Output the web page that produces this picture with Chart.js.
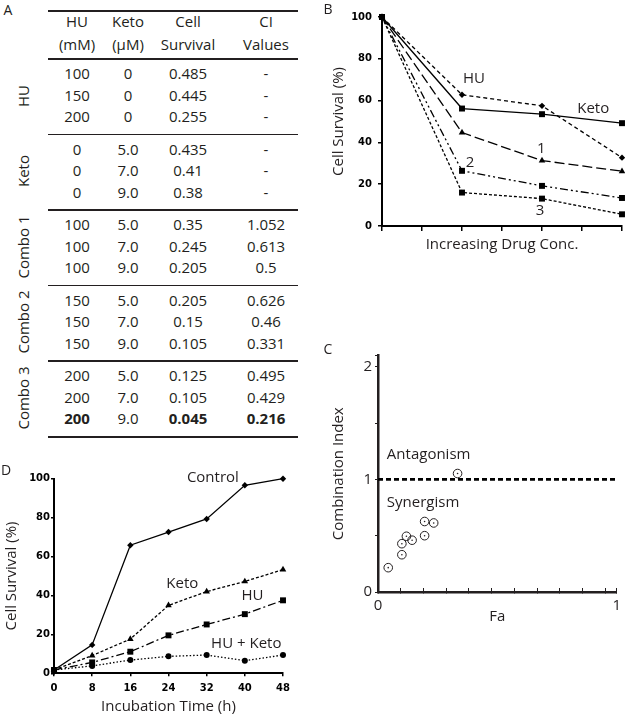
<!DOCTYPE html>
<html>
<head>
<meta charset="utf-8">
<script src="https://cdn.jsdelivr.net/npm/chart.js@4"></script>
<style>
  html, body { margin: 0; padding: 0; background: #fff; }
  body { width: 625px; height: 720px; position: relative; overflow: hidden;
         font-family: "Open Sans", sans-serif; color: #231f20; }
  canvas { position: absolute; }
  .t { position: absolute; transform: translate(-50%, -50%); white-space: nowrap;
       font-size: 15px; line-height: 18px; }
  .rot { transform: translate(-50%, -50%) rotate(-90deg); }
  .b { font-weight: bold; }
  .rule { position: absolute; left: 48px; width: 250px; height: 1.5px; background: #231f20; }
  .panel { position: absolute; font-size: 14px; transform: translate(-50%, -50%); }
</style>
</head>
<body>
<div id="table"></div>
<canvas id="chartB" width="330" height="262" style="left:300px;top:0px"></canvas>
<canvas id="chartC" width="330" height="300" style="left:300px;top:330px"></canvas>
<canvas id="chartD" width="300" height="280" style="left:0px;top:440px"></canvas>
<script>
// ---- Panel A: table values ----
const groupNames = ["HU", "Keto", "Combo 1", "Combo 2", "Combo 3"];
const headTop    = ["HU", "Keto", "Cell", "CI"];
const headBottom = ["(mM)", "(\u00b5M)", "Survival", "Values"];
const huConc   = ["100", "150", "200", "0", "0", "0", "100", "100", "100", "150", "150", "150", "200", "200", "200"];
const ketoConc = ["0", "0", "0", "5.0", "7.0", "9.0", "5.0", "7.0", "9.0", "5.0", "7.0", "9.0", "5.0", "7.0", "9.0"];
const survival = ["0.485", "0.445", "0.255", "0.435", "0.41", "0.38", "0.35", "0.245", "0.205",
                  "0.205", "0.15", "0.105", "0.125", "0.105", "0.045"];
const ciValues = ["-", "-", "-", "-", "-", "-", "1.052", "0.613", "0.5",
                  "0.626", "0.46", "0.331", "0.495", "0.429", "0.216"];

// ---- Panel B: survival vs increasing drug conc. ----
const bDose    = [0, 2, 4, 6];
const bHU      = [100, 62.8, 57.5, 32.7];
const bKeto    = [100, 56.2, 53.5, 49.2];
const bCombo1  = [100, 44.7, 31.3, 26.2];
const bCombo2  = [100, 26.4, 19.2, 13.4];
const bCombo3  = [100, 16.0, 13.1, 5.6];
const bNoteText = ["HU", "Keto", "1", "2", "3"];
const bNoteX    = [2.3, 5.28, 3.98, 2.2, 3.95];
const bNoteY    = [70.4, 56, 36.9, 30.4, 7.2];

// ---- Panel C: combination index vs Fa ----
const faValues = [0.35, 0.245, 0.205, 0.205, 0.15, 0.105, 0.125, 0.105, 0.045];
const ciPlot   = [1.052, 0.613, 0.5, 0.626, 0.46, 0.331, 0.495, 0.429, 0.216];
const faTicks  = [0, 0.1, 0.2, 0.3, 0.4, 0.5, 0.6, 0.7, 0.8, 0.9, 1.0, 1.05];
const faLabels = ["0", "", "", "", "", "", "", "", "", "", "", "1"];
const ciTicks  = [0, 0.5, 1, 1.5, 2, 2.1];
const ciLabels = ["0", "", "1", "", "2", ""];
const cNoteText = ["Antagonism", "Synergism"];
const cNoteX    = [0.039, 0.039];
const cNoteY    = [1.22, 0.79];

// ---- Panel D: survival over incubation time ----
const dHours   = [0, 8, 16, 24, 32, 40, 48];
const dControl = [1.7, 14.6, 65.8, 72.6, 79.3, 96.6, 100];
const dKeto    = [1.7, 9.1, 17.6, 34.9, 42.0, 47.2, 53.3];
const dHU      = [1.7, 5.6, 11.1, 19.5, 25.1, 30.4, 37.5];
const dHUKeto  = [1.7, 3.8, 6.8, 8.7, 9.4, 6.5, 9.4];
const dNoteText = ["Control", "Keto", "HU", "HU + Keto"];
const dNoteX    = [33.3, 26.9, 41.6, 40.3];
const dNoteY    = [100.3, 46.1, 39.7, 15.4];

const INK = "#231f20";

// ---------- build the table (panel A) ----------
function addText(parent, text, cx, cy, cls) {
  const s = document.createElement("span");
  s.className = "t" + (cls ? " " + cls : "");
  s.textContent = text;
  s.style.left = cx + "px";
  s.style.top = cy + "px";
  parent.appendChild(s);
}
function addRule(parent, y, h) {
  const d = document.createElement("div");
  d.className = "rule";
  d.style.top = y + "px";
  if (h) d.style.height = h + "px";
  parent.appendChild(d);
}
(function buildTable() {
  const tbl = document.getElementById("table");
  const colX = [77, 128, 188, 266];
  const ruleY = [58, 133.5, 209, 284.5, 360, 435.5];
  const pitch = 21.7;

  addRule(tbl, 9.5, 2);
  headTop.forEach((h, i) => addText(tbl, h, colX[i], 21));
  headBottom.forEach((h, i) => addText(tbl, h, colX[i], 43.5));
  ruleY.forEach((y, i) => addRule(tbl, y, i === ruleY.length - 1 ? 2 : 1.5));

  groupNames.forEach((g, gi) => {
    addText(tbl, g, 23, (ruleY[gi] + ruleY[gi + 1]) / 2, "rot");
    for (let r = 0; r < 3; r++) {
      const i = gi * 3 + r;
      const cy = ruleY[gi] + 15 + r * pitch;
      const bold = (i === huConc.length - 1) ? "b" : "";
      addText(tbl, huConc[i], colX[0], cy, bold);
      addText(tbl, ketoConc[i], colX[1], cy);
      addText(tbl, survival[i], colX[2], cy, bold);
      addText(tbl, ciValues[i], colX[3], cy, bold);
    }
  });

  [["A", 8, 9], ["B", 328, 8], ["C", 328, 348], ["D", 6, 469]].forEach(p => {
    const s = document.createElement("span");
    s.className = "panel";
    s.textContent = p[0];
    s.style.left = p[1] + "px";
    s.style.top = p[2] + "px";
    document.body.appendChild(s);
  });
})();

// ---------- shared chart setup ----------
Chart.defaults.font.family = '"Open Sans", sans-serif';
Chart.defaults.color = INK;
Chart.defaults.animation = false;

// draws text annotations at data coordinates
const notesPlugin = {
  id: "notes",
  afterDatasetsDraw(chart, args, opts) {
    const ctx = chart.ctx, x = chart.scales.x, y = chart.scales.y;
    ctx.save();
    ctx.fillStyle = INK;
    ctx.font = '15px "Open Sans", sans-serif';
    ctx.textBaseline = "middle";
    ctx.textAlign = opts.align || "center";
    (opts.text || []).forEach((t, i) => {
      ctx.fillText(t, x.getPixelForValue(opts.x[i]), y.getPixelForValue(opts.y[i]));
    });
    ctx.restore();
  }
};

const pts = (xs, ys) => xs.map((v, i) => ({ x: v, y: ys[i] }));
const boldTick = { family: '"DejaVu Sans", sans-serif', weight: "bold", size: 10 };
const titleFont = { family: '"Open Sans", sans-serif', size: 15 };

function lineSet(xs, ys, dash, style, radius) {
  return {
    data: pts(xs, ys),
    borderColor: "#000",
    backgroundColor: "#000",
    borderWidth: 1.3,
    borderDash: dash,
    pointStyle: style,
    pointRadius: radius,
    pointBorderWidth: 0,
    tension: 0,
    clip: false
  };
}

// ---------- panel B ----------
new Chart(document.getElementById("chartB"), {
  type: "line",
  data: {
    datasets: [
      lineSet(bDose, bKeto,   [],                 "rect",    4.2),
      lineSet(bDose, bHU,     [4, 3],             "rectRot", 3.2),
      lineSet(bDose, bCombo1, [10, 4],            "triangle", 3.8),
      lineSet(bDose, bCombo2, [8, 3, 2, 3, 2, 3], "rect",    4.2),
      lineSet(bDose, bCombo3, [3, 2],             "rect",    4.2)
    ]
  },
  options: {
    responsive: false,
    devicePixelRatio: 1,
    layout: { padding: { left: 30, top: 17, right: 8, bottom: 0 } },
    plugins: {
      legend: { display: false },
      tooltip: { enabled: false },
      notes: { text: bNoteText, x: bNoteX, y: bNoteY }
    },
    scales: {
      x: {
        type: "linear", min: 0, max: 6,
        ticks: { display: false, stepSize: 1 },
        grid: { drawOnChartArea: false, color: "#000", tickLength: 5, lineWidth: 1.5 },
        border: { color: "#000", width: 2 },
        title: { display: true, text: "Increasing Drug Conc.", font: titleFont, padding: { top: 0, bottom: 8 } },
        afterFit: s => { s.height = 36; }
      },
      y: {
        min: 0, max: 100,
        ticks: { stepSize: 20, font: boldTick, padding: 6, color: "#000" },
        grid: { drawOnChartArea: false, color: "#000", tickLength: 4, lineWidth: 1.5 },
        border: { color: "#000", width: 2 },
        title: { display: true, text: "Cell Survival (%)", font: titleFont, padding: { top: 0, bottom: 0 } },
        afterFit: s => { s.width = 52; }
      }
    }
  },
  plugins: [notesPlugin]
});

// ---------- panel C ----------
new Chart(document.getElementById("chartC"), {
  type: "line",
  data: {
    datasets: [
      {
        data: [{ x: 0, y: 1 }, { x: 1.05, y: 1 }],
        borderColor: "#000", borderWidth: 2.6, borderDash: [5, 3],
        pointRadius: 0
      },
      {
        data: pts(faValues, ciPlot), showLine: false, clip: false,
        pointStyle: "circle", pointRadius: 4.3,
        pointBorderColor: INK, pointBorderWidth: 1, pointBackgroundColor: "rgba(255,255,255,0)"
      },
      {
        data: pts(faValues, ciPlot), showLine: false, clip: false,
        pointStyle: "circle", pointRadius: 0.8,
        pointBorderWidth: 0, pointBackgroundColor: INK
      }
    ]
  },
  options: {
    responsive: false,
    devicePixelRatio: 1,
    layout: { padding: { left: 30, top: 25.5, right: 8, bottom: 0 } },
    plugins: {
      legend: { display: false },
      tooltip: { enabled: false },
      notes: { text: cNoteText, x: cNoteX, y: cNoteY, align: "left" }
    },
    scales: {
      x: {
        type: "linear", min: 0, max: 1.05,
        afterBuildTicks: s => { s.ticks = faTicks.map(v => ({ value: v })); },
        ticks: {
          autoSkip: false, maxRotation: 0, padding: 9, font: { size: 15 },
          callback: (v, i) => faLabels[i]
        },
        grid: { drawOnChartArea: false, color: INK, tickLength: -4, lineWidth: 1 },
        border: { color: INK, width: 2.5 },
        title: { display: true, text: "Fa", font: titleFont, padding: { top: 0, bottom: 4 } },
        afterFit: s => { s.height = 38; }
      },
      y: {
        min: 0, max: 2.1,
        afterBuildTicks: s => { s.ticks = ciTicks.map(v => ({ value: v })); },
        ticks: {
          autoSkip: false, padding: 3, font: { size: 15 },
          callback: (v, i) => ciLabels[i]
        },
        grid: { drawOnChartArea: false, color: INK, tickLength: 3, lineWidth: 1 },
        border: { color: INK, width: 2.5 },
        title: { display: true, text: "Combination Index", font: titleFont, padding: { top: 0, bottom: 0 } },
        afterFit: s => { s.width = 48; }
      }
    }
  },
  plugins: [notesPlugin]
});

// ---------- panel D ----------
new Chart(document.getElementById("chartD"), {
  type: "line",
  data: {
    datasets: [
      lineSet(dHours, dControl, [],           "rectRot",  3.2),
      lineSet(dHours, dKeto,    [3, 2],       "triangle", 3.8),
      lineSet(dHours, dHU,      [8, 3, 2, 3], "rect",     4.2),
      lineSet(dHours, dHUKeto,  [1.5, 2],     "circle",   3)
    ]
  },
  options: {
    responsive: false,
    devicePixelRatio: 1,
    layout: { padding: { left: 3, top: 38.7, right: 17, bottom: 0 } },
    plugins: {
      legend: { display: false },
      tooltip: { enabled: false },
      notes: { text: dNoteText, x: dNoteX, y: dNoteY }
    },
    scales: {
      x: {
        type: "linear", min: 0, max: 48,
        ticks: { stepSize: 8, font: boldTick, padding: 6, color: "#000", autoSkip: false, maxRotation: 0 },
        grid: { drawOnChartArea: false, color: "#000", tickLength: 3, lineWidth: 1.5 },
        border: { color: "#000", width: 2 },
        title: { display: true, text: "Incubation Time (h)", font: titleFont, padding: { top: 0, bottom: 4 } },
        afterFit: s => { s.height = 46.7; }
      },
      y: {
        min: 0, max: 100,
        ticks: { stepSize: 20, font: boldTick, padding: 1, color: "#000" },
        grid: { drawOnChartArea: false, color: "#000", tickLength: 3, lineWidth: 1.5 },
        border: { color: "#000", width: 2 },
        title: { display: true, text: "Cell Survival (%)", font: titleFont, padding: { top: 0, bottom: 0 } },
        afterFit: s => { s.width = 51; }
      }
    }
  },
  plugins: [notesPlugin]
});
</script>
</body>
</html>
